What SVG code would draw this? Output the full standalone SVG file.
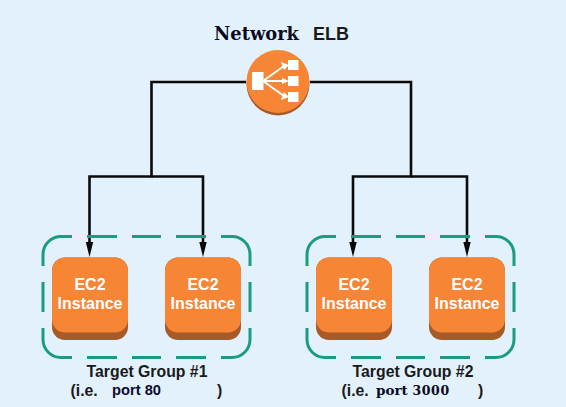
<svg xmlns="http://www.w3.org/2000/svg" width="566" height="407" viewBox="0 0 566 407">
<style>
.s{font-family:"Liberation Sans",Arial,sans-serif;font-weight:700}
.w{fill:#fff;font-size:16px;text-anchor:middle}
.k{fill:#1a1a1a;font-size:15.8px}
.ser{font-family:"DejaVu Serif","Liberation Serif",serif;font-weight:700;fill:#0a0a1e}
.c{fill:none;stroke:#0a0a0a;stroke-width:2.6}
.g{fill:none;stroke:#1a9c80;stroke-width:3}
.b{fill:#a65a28}.o{fill:#f78536}.i{fill:#fff}
.a{fill:none;stroke:#fff;stroke-width:2}
</style>
<defs>
<path id="dash" class="g" d="M43 266V254.500A18 18 0 0 1 61 236.500H72M87 236.500H117M132 236.500H161M176 236.500H206M221 236.500H232A18 18 0 0 1 250 254.500V266M250 282V312M250 328V339.500A18 18 0 0 1 232 357.500H221M206 357.500H176M161 357.500H132M117 357.500H87M72 357.500H61A18 18 0 0 1 43 339.500V328M43 312V282"/>
<g id="ec2">
<rect class="b" width="76" height="82.500" rx="13"/>
<rect class="o" width="76" height="75" rx="13"/>
<text class="s w" x="38" y="32.500">EC2</text>
<text class="s w" x="38" y="51.500">Instance</text>
</g>
</defs>
<rect width="566" height="407" fill="#e2f1fb"/>
<g id="connectors">
<path class="c" d="M246 82H151.500V176.500H89.500V243"/>
<path class="c" d="M151.500 176.500H203V243"/>
<path class="c" d="M310 82H411V176.500H353V243"/>
<path class="c" d="M411 176.500H467V243"/>
<path d="M85.800 242H93.200L89.500 257ZM199.300 242H206.700L203 257ZM349.300 242H356.700L353 257ZM463.300 242H470.700L467 257Z" fill="#0a0a0a"/>
</g>
<g id="elb">
<circle cx="278" cy="84" r="31.500" fill="#a65a28"/>
<circle cx="278" cy="81.500" r="31.500" fill="#f78536"/>
<rect class="i" x="252" y="72" width="11.500" height="18"/>
<rect class="i" x="288" y="60" width="10.500" height="10"/>
<rect class="i" x="288" y="76" width="10.500" height="10"/>
<rect class="i" x="288" y="92" width="10.500" height="10"/>
<path class="a" d="M263 81L284 66M263 81H284M263 81L284 96"/>
<path class="i" d="M281 62L289 65L284 70ZM282 78L289 81L282 84ZM284 92L289 97L281 100Z"/>
<text class="ser" x="214" y="40" font-size="18" textLength="85" lengthAdjust="spacingAndGlyphs">Network</text>
<text class="s" x="313" y="40" font-size="18" fill="#1a1a1a">ELB</text>
</g>
<g id="group1">
<use href="#dash"/>
<use id="ec2a" href="#ec2" x="52" y="257.500"/>
<use id="ec2b" href="#ec2" x="165" y="257.500"/>
<text class="s k" x="147" y="377" text-anchor="middle">Target Group #1</text>
<text class="s k" x="70.500" y="396">(i.e.</text>
<text class="s" x="112" y="395" font-size="14.700" fill="#0a0a30">port 80</text>
<text class="s k" x="217" y="396">)</text>
</g>
<g id="group2">
<use href="#dash" x="264"/>
<use id="ec2c" href="#ec2" x="316" y="257.500"/>
<use id="ec2d" href="#ec2" x="429" y="257.500"/>
<text class="s k" x="413" y="377" text-anchor="middle">Target Group #2</text>
<text class="s k" x="341.500" y="396">(i.e.</text>
<text class="ser" x="376" y="395" font-size="13.500">port <tspan font-size="12.500" letter-spacing="0.600">3000</tspan></text>
<text class="s k" x="478" y="396">)</text>
</g>
</svg>
